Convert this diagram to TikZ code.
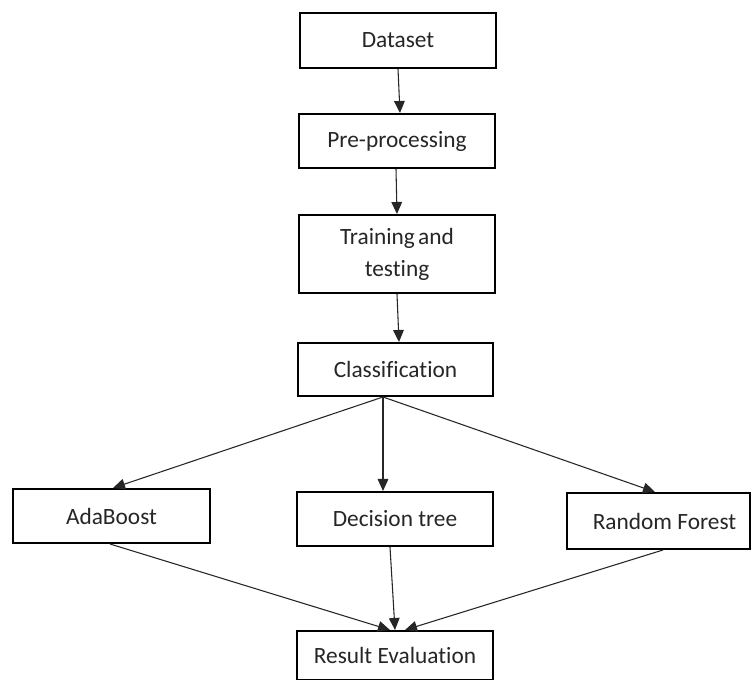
\documentclass[tikz,border=0pt]{standalone}
\usepackage{fontspec}
\setmainfont{Carlito}[Ligatures=NoCommon]
\usetikzlibrary{arrows.meta,calc}
\begin{document}
\begin{tikzpicture}[x=0.75pt,y=-0.75pt,
  box/.style={draw=black,line width=1.5pt,rectangle,inner sep=0pt,align=center,
    font=\fontsize{17.5}{24}\selectfont,text=black!85},
  arr/.style={draw=black!85,line width=0.8pt,-{Triangle[length=9pt,width=8pt]}},
  ln/.style={draw=black!85,line width=0.8pt}]
\useasboundingbox (0,0) rectangle (751,680);
\fill[white] (0,0) rectangle (751,680);
\node[box,minimum width=196*0.75pt,minimum height=55*0.75pt] (ds) at (398,40.5) {Dataset};
\node[box,minimum width=196*0.75pt,minimum height=54*0.75pt] (pp) at (397,141) {Pre-processing};
\node[box,minimum width=196*0.75pt,minimum height=78*0.75pt] (tt) at (397,254) {Training\hspace{-1.5pt} and\\testing};
\node[box,minimum width=195*0.75pt,minimum height=53*0.75pt] (cl) at (395.5,369.5) {Classification};
\node[box,minimum width=197*0.75pt,minimum height=54*0.75pt] (ab) at (111.5,516) {AdaBoost};
\node[box,minimum width=196*0.75pt,minimum height=54*0.75pt] (dt) at (395,519) {Decision tree};
\node[box,minimum width=183*0.75pt,minimum height=56*0.75pt] (rf) at (658.5,521) {\hspace*{9pt}Random Forest};
\node[box,minimum width=196*0.75pt,minimum height=49*0.75pt] (re) at (395,655.5) {Result Evaluation};
\coordinate (c0) at ($(cl.south)+(-12.5,0)$);
\draw[arr] (ds.south) -- ($(pp.north)+(3,0)$);
\draw[arr] ($(pp.south)+(-1,0)$) -- (tt.north);
\draw[arr] (tt.south) -- ($(cl.north)+(3.5,0)$);
\draw[arr] (c0) -- ($(ab.north)+(1.5,0)$);
\draw[arr] (c0) -- ($(dt.north)+(-12,0)$);
\draw[arr] (c0) -- ($(rf.north)+(-3.5,0)$);
\draw[arr] ($(ab.south)+(-1.5,0)$) -- ($(re.north)+(-5,0)$);
\draw[arr] ($(dt.south)+(-5,0)$) -- (re.north);
\draw[arr] ($(rf.south)+(4.5,0)$) -- ($(re.north)+(10,0)$);
\end{tikzpicture}
\end{document}
